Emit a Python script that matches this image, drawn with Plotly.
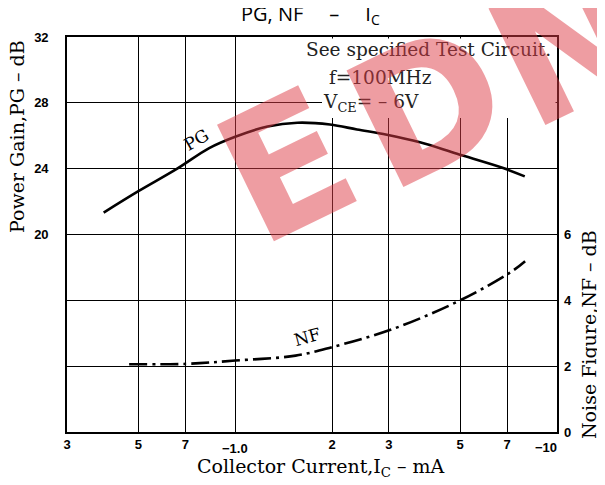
import plotly.graph_objects as go

# ---- data ----
pg_current_ma = [0.39, 0.5, 0.66, 0.83, 1.0, 1.26, 1.56, 1.97, 2.39, 2.96, 3.75, 4.89, 6.8, 7.94]
pg_db = [21.33, 22.63, 24.0, 25.25, 25.94, 26.56, 26.79, 26.68, 26.38, 26.06, 25.6, 24.9, 24.04, 23.53]

nf_current_ma = [0.468, 0.704, 1.0, 1.54, 2.0, 3.09, 5.0, 7.14, 7.96]
nf_db = [2.06, 2.07, 2.17, 2.32, 2.58, 3.13, 4.0, 4.84, 5.19]

x_tickvals = [0.3, 0.5, 0.7, 1, 2, 3, 5, 7, 10]
x_ticktext = ["3", "5", "7", "", "2", "3", "5", "7", ""]
pg_tickvals = [8, 12, 16, 20, 24, 28, 32]
pg_ticktext = ["", "", "", "20", "24", "28", "32"]
nf_tickvals = [0, 2, 4, 6]
nf_ticktext = ["0", "2", "4", "6"]
watermark_letters = ["E", "D", "N"]

# ---- layout geometry (pixels in the 605x485 window) ----
OFF = 8  # default body margin of the page
W, H = 605 - OFF, 485 - OFF
L, R, T, B = 67, 557, 37, 432


def px(x):
    return (x - L) / (R - L)


def py(y):
    return (B - y) / (B - T)


SERIF = "DejaVu Serif"
TICKFONT = dict(family="Liberation Sans Narrow, Liberation Sans, Arial", size=13, color="black", weight="bold")

fig = go.Figure()
fig.add_trace(go.Scatter(
    x=pg_current_ma, y=pg_db, mode="lines", line=dict(color="black", width=2.6, shape="spline"),
    showlegend=False, hoverinfo="skip"))
fig.add_trace(go.Scatter(
    x=nf_current_ma, y=nf_db, mode="lines", yaxis="y2",
    line=dict(color="black", width=2.6, shape="spline", dash="18px,5px,3px,5px"),
    showlegend=False, hoverinfo="skip"))

fig.update_layout(
    width=W, height=H,
    margin=dict(l=L - OFF, r=(W) - (R - OFF), t=T - OFF, b=H - (B - OFF), autoexpand=False),
    paper_bgcolor="white", plot_bgcolor="white",
    xaxis=dict(type="log", range=[-0.5229, 1.0], tickvals=x_tickvals, ticktext=x_ticktext,
               showgrid=True, gridcolor="black", gridwidth=1, showline=True, linecolor="black",
               linewidth=1.6, mirror=True, ticks="", tickfont=TICKFONT, zeroline=False,
               automargin=False),
    yaxis=dict(range=[8, 32], tickvals=pg_tickvals, ticktext=pg_ticktext, showgrid=True,
               gridcolor="black", gridwidth=1, showline=True, linecolor="black", linewidth=1.6,
               mirror=True, ticks="", tickfont=TICKFONT, ticklabelstandoff=14, zeroline=False,
               automargin=False),
    yaxis2=dict(range=[0, 12], tickvals=nf_tickvals, ticktext=nf_ticktext, overlaying="y",
                side="right", showgrid=False, showline=False, ticks="", tickfont=TICKFONT,
                ticklabelstandoff=6, zeroline=False, automargin=False),
)

# white box behind the test-condition text
fig.add_shape(type="rect", xref="paper", yref="paper", x0=px(322), x1=px(555.5), y0=py(118),
              y1=py(38.5), fillcolor="white", line=dict(width=0), layer="above")

ann = []
# title
ann.append(dict(x=px(310), y=py(15),
                text="PG,\u00a0NF\u00a0\u00a0\u00a0\u00a0\u00a0–\u00a0\u00a0\u00a0\u00a0\u00a0I<sub>C</sub>",
                font=dict(family="Open Sans", size=20, color="black")))
# axis titles
ann.append(dict(x=px(17), y=py(137), text="Power Gain,PG – dB", textangle=-90,
                font=dict(family=SERIF, size=19, color="black")))
ann.append(dict(x=px(589), y=py(335), text="Noise Figure,NF – dB", textangle=-90,
                font=dict(family=SERIF, size=19, color="black")))
ann.append(dict(x=px(321), y=py(467), text="Collector Current,I<sub>C</sub> – mA",
                font=dict(family=SERIF, size=19, color="black")))
# special tick labels
ann.append(dict(x=px(235), y=py(448), text="−1.0", font=TICKFONT))
ann.append(dict(x=px(546), y=py(447), text="−10", font=TICKFONT))
# conditions
ann.append(dict(x=px(553), y=py(50), text="See specified Test Circuit.", xanchor="right",
                font=dict(family=SERIF, size=18.5, color="#222")))
ann.append(dict(x=px(327), y=py(77), text="f=100MHz", xanchor="left",
                font=dict(family=SERIF, size=18.5, color="#222")))
ann.append(dict(x=px(321), y=py(103), text="V<sub>CE</sub>= – 6V", xanchor="left",
                font=dict(family=SERIF, size=18.5, color="#222")))
# curve labels
ann.append(dict(x=px(196), y=py(140), text="PG", textangle=-30,
                font=dict(family=SERIF, size=17, color="black")))
ann.append(dict(x=px(307), y=py(337), text="NF", textangle=-15,
                font=dict(family=SERIF, size=17, color="black")))
# watermark letters
for letter, (cx, cy) in zip(watermark_letters, [(287, 166), (428, 106), (570, 44)]):
    ann.append(dict(x=px(cx), y=py(cy), text=letter, textangle=-26,
                    font=dict(family="DejaVu Sans", size=178, color="rgba(222,60,70,0.5)",
                              weight="bold")))

for a in ann:
    a.setdefault("xref", "paper")
    a.setdefault("yref", "paper")
    a.setdefault("xanchor", "center")
    a.setdefault("yanchor", "middle")
    a.setdefault("showarrow", False)
    fig.add_annotation(**a)

fig.write_html("out.html")
